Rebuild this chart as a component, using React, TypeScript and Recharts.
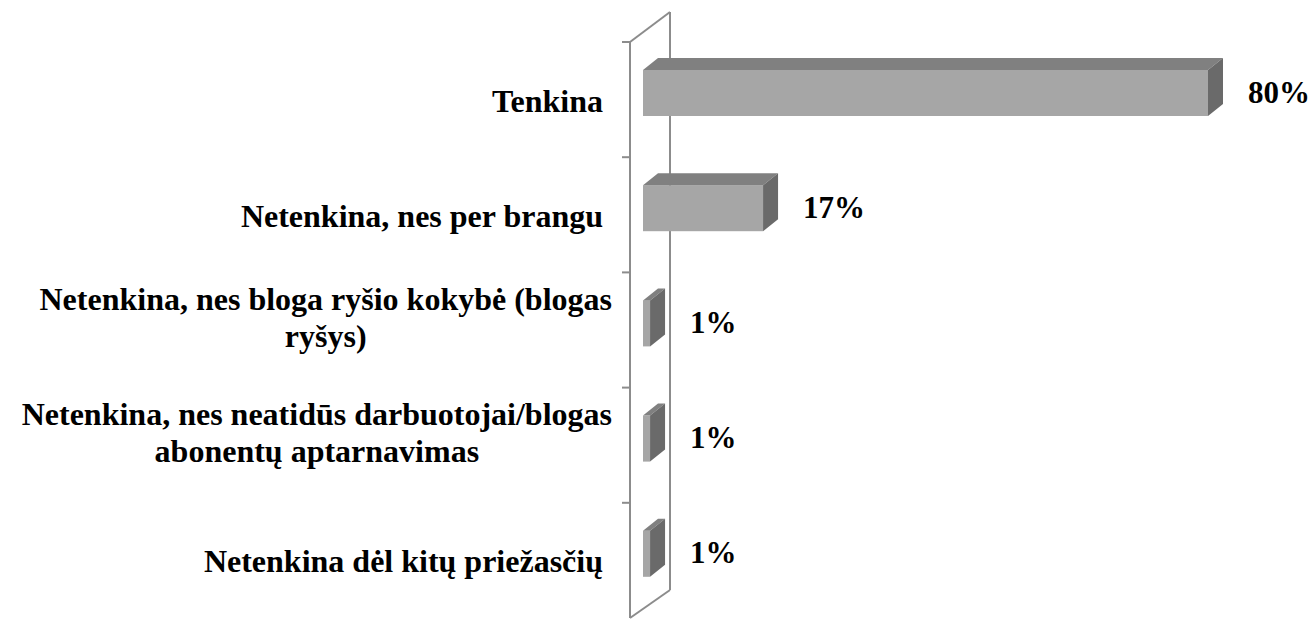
import * as R from "recharts";
import { Bar, BarChart, LabelList, XAxis, YAxis } from "recharts";

const KATEGORIJOS = [
  "Tenkina",
  "Netenkina, nes per brangu",
  "Netenkina, nes bloga ryšio kokybė (blogas\nryšys)",
  "Netenkina, nes neatidūs darbuotojai/blogas\nabonentų aptarnavimas",
  "Netenkina dėl kitų priežasčių",
];
const REIKSMES = [80, 17, 1, 1, 1];
const X_RIBOS = [0, 80];

const SRIFTAS = "'Liberation Serif', 'DejaVu Serif', serif";
const PRIEKIS = "#a6a6a6";
const VIRSUS = "#808080";
const SONAS = "#6a6a6a";
const SIENA = "#8c8c8c";

const DX = 15;
const DZ = 12;

const teksto = { fontFamily: SRIFTAS, fontWeight: 700 } as const;

const duomenys = KATEGORIJOS.map((k, i) => ({ k, v: REIKSMES[i] }));

const hookPlotArea = (R as any).usePlotArea;
const hookOffset = (R as any).useOffset;

function usePlot(): { x: number; y: number; width: number; height: number } | null {
  if (hookPlotArea) {
    const a = hookPlotArea();
    return a ?? null;
  }
  if (hookOffset) {
    const o = hookOffset();
    if (!o) return null;
    return { x: o.left, y: o.top, width: 1313 - o.left - o.right, height: 620 - o.top - o.bottom };
  }
  return { x: 643, y: 42, width: 565, height: 576 };
}

let ctx: CanvasRenderingContext2D | null = null;
function plotis(t: string, font: string) {
  if (!ctx) ctx = document.createElement("canvas").getContext("2d");
  if (!ctx) return t.length * 14;
  ctx.font = font;
  return ctx.measureText(t).width;
}

function Siena({ n }: { n: number }) {
  const p = usePlot();
  if (!p) return null;
  const fx = p.x - 13;
  const bx = fx + 40;
  const top = p.y;
  const bot = p.y + p.height;
  const juosta = p.height / n;
  const zymes = Array.from({ length: n }, (_, i) => top + i * juosta);
  return (
    <g stroke={SIENA} strokeWidth={2} fill="none">
      <line x1={fx} y1={top} x2={fx} y2={bot} />
      <line x1={bx} y1={top - 30} x2={bx} y2={bot - 28} />
      <line x1={fx} y1={top} x2={bx} y2={top - 30} />
      <line x1={fx} y1={bot} x2={bx} y2={bot - 28} />
      {zymes.map((y, i) => (
        <line key={i} x1={fx - 8} y1={y} x2={fx} y2={y} />
      ))}
    </g>
  );
}

function Kubas(props: any) {
  const { x, y, width, height } = props;
  const fy = y + height / 2 - 30;
  const h = 46;
  const w = width;
  return (
    <g>
      <rect x={x} y={fy} width={w} height={h} fill={PRIEKIS} />
      <polygon
        points={`${x},${fy} ${x + DX},${fy - DZ} ${x + w + DX},${fy - DZ} ${x + w},${fy}`}
        fill={VIRSUS}
      />
      <polygon
        points={`${x + w},${fy} ${x + w + DX},${fy - DZ} ${x + w + DX},${fy + h - DZ} ${x + w},${fy + h}`}
        fill={SONAS}
      />
    </g>
  );
}

function Reiksme(props: any) {
  const { x, y, width, height, value } = props;
  return (
    <text
      x={x + width + 40}
      y={y + height / 2 - 8}
      dominantBaseline="central"
      style={{ ...teksto, fontSize: 31 }}
      fill="#000"
    >
      {value}%
    </text>
  );
}

function KategorijosZyme(props: any) {
  const { x, y, payload } = props;
  const eilutes: string[] = String(payload.value).split("\n");
  const font = `bold 32px ${SRIFTAS}`;
  if (eilutes.length === 1) {
    return (
      <text
        x={x - 32}
        y={y + 1}
        textAnchor="end"
        dominantBaseline="central"
        style={{ ...teksto, fontSize: 32 }}
        fill="#000"
      >
        {eilutes[0]}
      </text>
    );
  }
  const maxW = Math.max(...eilutes.map((e) => plotis(e, font)));
  const cx = x - 23 - maxW / 2;
  const y0 = y - 31;
  return (
    <text
      textAnchor="middle"
      dominantBaseline="central"
      style={{ ...teksto, fontSize: 32 }}
      fill="#000"
    >
      {eilutes.map((e, i) => (
        <tspan key={i} x={cx} y={y0 + i * 37}>
          {e}
        </tspan>
      ))}
    </text>
  );
}

export default function App() {
  return (
    <div style={{ position: "absolute", left: 0, top: 0, width: 1313, height: 620, background: "#fff" }}>
      <BarChart
        width={1313}
        height={620}
        layout="vertical"
        data={duomenys}
        margin={{ top: 42, right: 105, bottom: 2, left: 0 }}
      >
        <XAxis type="number" domain={X_RIBOS} hide />
        <YAxis
          type="category"
          dataKey="k"
          width={643}
          axisLine={false}
          tickLine={false}
          tick={<KategorijosZyme />}
          interval={0}
        />
        <Siena n={KATEGORIJOS.length} />
        <Bar dataKey="v" barSize={46} shape={<Kubas />} isAnimationActive={false}>
          <LabelList dataKey="v" content={<Reiksme />} />
        </Bar>
      </BarChart>
    </div>
  );
}
